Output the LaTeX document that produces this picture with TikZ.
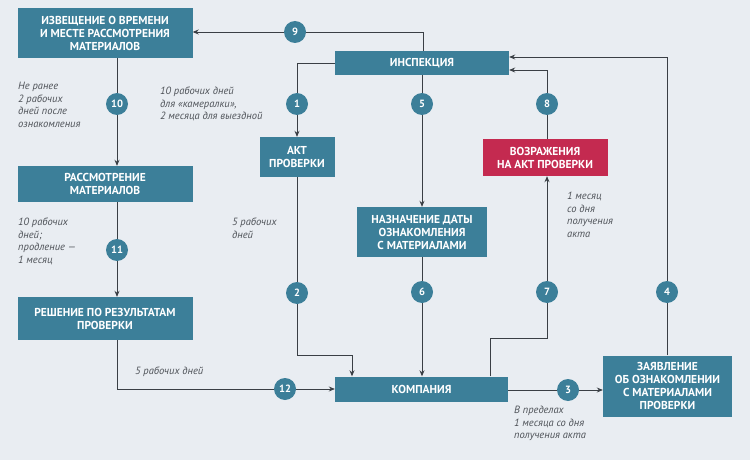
\documentclass[tikz,border=0pt]{standalone}
\usepackage{fontspec}
\setmainfont{PT Sans}
\usetikzlibrary{arrows.meta}
\definecolor{bg}{HTML}{E9EDF2}
\definecolor{teal}{HTML}{3C7F99}
\definecolor{red}{HTML}{C42A50}
\definecolor{ln}{HTML}{3A3F45}
\newcommand{\nl}[1]{\begin{tabular}{@{}l@{}}#1\end{tabular}}
\begin{document}
\begin{tikzpicture}[x=1pt,y=-1pt,
 box/.style={fill=teal,text=white,font=\fontsize{11.5}{13}\selectfont\bfseries,align=center,inner sep=0pt},
 num/.style={circle,fill=teal,text=white,font=\fontsize{10.5}{10.5}\selectfont\bfseries,minimum size=22pt,inner sep=0pt},
 note/.style={font=\fontsize{10.5}{12.5}\selectfont\itshape,text=ln!90,anchor=north west,inner sep=0pt},
 ar/.style={draw=ln,line width=0.8pt,-{Stealth[length=6pt,width=5pt]}}]
\fill[bg] (0,0) rectangle (750,460);
\node[box,minimum width=175pt,minimum height=50pt] (izv) at (105,33) {ИЗВЕЩЕНИЕ О ВРЕМЕНИ\\И МЕСТЕ РАССМОТРЕНИЯ\\МАТЕРИАЛОВ};
\node[box,minimum width=174pt,minimum height=24pt] (insp) at (422,63) {ИНСПЕКЦИЯ};
\node[box,minimum width=75pt,minimum height=40pt] (akt) at (297,157) {АКТ\\ПРОВЕРКИ};
\node[box,fill=red,minimum width=125pt,minimum height=37pt] (voz) at (545,157.5) {ВОЗРАЖЕНИЯ\\НА АКТ ПРОВЕРКИ};
\node[box,minimum width=175pt,minimum height=36pt] (ras) at (105,184) {РАССМОТРЕНИЕ\\МАТЕРИАЛОВ};
\node[box,minimum width=130pt,minimum height=50pt] (naz) at (422,232) {НАЗНАЧЕНИЕ ДАТЫ\\ОЗНАКОМЛЕНИЯ\\С МАТЕРИАЛАМИ};
\node[box,minimum width=175pt,minimum height=43pt] (res) at (105,318.5) {РЕШЕНИЕ ПО РЕЗУЛЬТАТАМ\\ПРОВЕРКИ};
\node[box,minimum width=173pt,minimum height=25pt] (kom) at (421.5,389) {КОМПАНИЯ};
\node[box,minimum width=129pt,minimum height=61pt] (zay) at (667.5,386) {ЗАЯВЛЕНИЕ\\ОБ ОЗНАКОМЛЕНИИ\\С МАТЕРИАЛАМИ\\ПРОВЕРКИ};
% connectors
\coordinate (c9) at (423,32);
\draw[ar] (insp.north -| c9) -- (c9) -- (izv.east |- c9);
\coordinate (c1) at (297,63);
\draw[ar] (insp.west) -- (c1) -- (akt.north);
\draw[ar] (insp.south) -- (naz.north);
\coordinate (c8) at (547,70);
\draw[ar] (voz.north -| c8) -- (c8) -- (insp.east |- c8);
\coordinate (c4) at (667,57);
\draw[ar] (zay.north -| c4) -- (c4) -- (insp.east |- c4);
\draw[ar] (izv.south -| 117,0) -- (ras.north -| 117,0);
\draw[ar] (ras.south -| 117,0) -- (res.north -| 117,0);
\coordinate (c12) at (117,389);
\draw[ar] (res.south -| c12) -- (c12) -- (kom.west);
\coordinate (c2a) at (297,355); \coordinate (c2b) at (352,355);
\draw[ar] (akt.south) -- (c2a) -- (c2b) -- (kom.north -| c2b);
\draw[ar] (naz.south) -- (kom.north -| naz.south);
\coordinate (c7a) at (490,338); \coordinate (c7b) at (547,338);
\draw[ar] (kom.north -| c7a) -- (c7a) -- (c7b) -- (voz.south -| c7b);
\draw[ar] (kom.east |- 0,390) -- (zay.west |- 0,390);
% numbers
\node[num] (n9) at (295,32) {9};
\node[num] (n1) at (297,104) {1};
\node[num] (n5) at (422,104) {5};
\node[num] (n8) at (547,104) {8};
\node[num] (n10) at (117,104) {10};
\node[num] (n11) at (117,250) {11};
\node[num] (n2) at (297,293) {2};
\node[num] (n6) at (422,292) {6};
\node[num] (n7) at (547,292) {7};
\node[num] (n4) at (667,292) {4};
\node[num] (n12) at (285,389) {12};
\node[num] (n3) at (568,390) {3};
% notes
\node[note] (t1) at (18,81) {\nl{Не ранее\\2 рабочих\\дней после\\ознакомления}};
\node[note] (t2) at (160,86) {\nl{10 рабочих дней\\для «камералки»,\\2 месяца для выездной}};
\node[note] (t3) at (18,217) {\nl{10 рабочих\\дней;\\продление —\\1 месяц}};
\node[note] (t4) at (232,217) {\nl{5 рабочих\\дней}};
\node[note] (t5) at (567,191) {\nl{1 месяц\\со дня\\получения\\акта}};
\node[note] (t6) at (135,367) {5 рабочих дней};
\node[note] (t7) at (514,405) {\nl{В пределах\\1 месяца со дня\\получения акта}};
\end{tikzpicture}
\end{document}
